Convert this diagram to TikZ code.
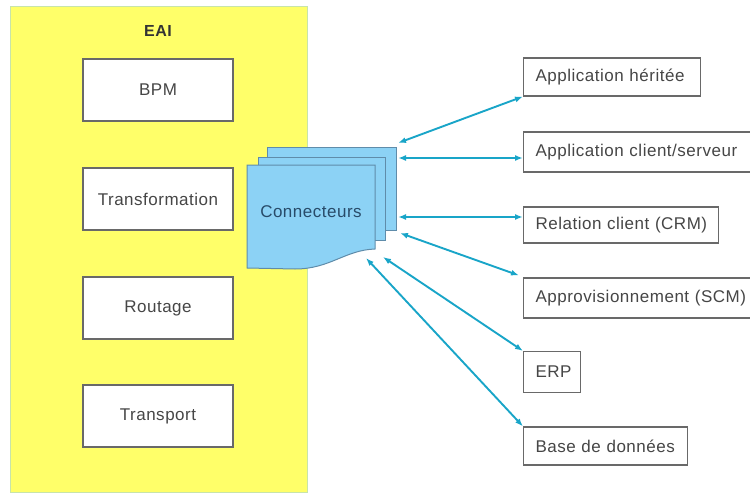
\documentclass[tikz,border=0pt]{standalone}
\usepackage{fontspec}
\setmainfont{Liberation Sans}[LetterSpace=3]
\usetikzlibrary{arrows.meta,calc,positioning}
\definecolor{eaiyellow}{RGB}{255,255,105}
\definecolor{eaiedge}{RGB}{200,228,170}
\definecolor{sheetfill}{RGB}{140,210,245}
\definecolor{sheetedge}{RGB}{95,140,170}
\definecolor{linkblue}{RGB}{25,165,200}
\definecolor{boxedge}{RGB}{105,105,105}
\definecolor{txtgrey}{RGB}{70,70,70}
\tikzset{
  eaibox/.style={draw=eaiedge,fill=eaiyellow,line width=1pt},
  layer/.style={draw=boxedge,fill=white,line width=1.3pt,minimum width=150,minimum height=62,text=txtgrey},
  appbox/.style={draw=boxedge,fill=white,line width=1.1pt,anchor=west,minimum height=38,inner xsep=12,align=left,text=txtgrey},
  sheet/.style={draw=sheetedge,fill=sheetfill,line width=1pt},
  link/.style={{Latex[length=8,width=6]}-{Latex[length=8,width=6]},draw=linkblue,line width=1.9pt},
  every node/.style={font=\fontsize{17}{20}\selectfont}
}
\begin{document}
\begin{tikzpicture}[x=1pt,y=-1pt]
\useasboundingbox (0,0) rectangle (750,495);
\draw[eaibox] (10,7) rectangle (307,492);
\node[font=\fontsize{16}{19}\selectfont\bfseries,text=black!80] (eai) at (158,31) {EAI};
\node[layer] (bpm) at (158,90) {BPM};
\node[layer] (transf) at (158,199) {Transformation};
\node[layer] (rout) at (158,308) {Routage};
\node[layer] (transp) at (158,416) {Transport};
% pile of connector sheets
\draw[sheet] (267,147) rectangle (396,230);
\draw[sheet] (258,157) rectangle (385,240);
\draw[sheet] (247,165) -- (375,165) -- (375,249)
  .. controls (345,250) and (330,269) .. (295,269) -- (247,268) -- cycle;
\node[text={rgb,255:red,40;green,75;blue,105}] (conn) at (311,212) {Connecteurs};
\coordinate (c1) at (398,143);
\coordinate (c2) at (398,158);
\coordinate (c3) at (398,217);
\coordinate (c4) at (400,233);
\coordinate (c5) at (383,257);
\coordinate (c6) at (366,258);
% applications
\node[appbox,text width=153] (herit) at (523,77) {\mbox{Application héritée}};
\node[appbox,text width=205,minimum height=40] (cliser) at (523,152) {\mbox{Application client/serveur}};
\node[appbox,text width=171,minimum height=36] (crm) at (523,225) {\mbox{Relation client (CRM)}};
\node[appbox,text width=205,minimum height=40] (scm) at (523,298) {\mbox{Approvisionnement (SCM)}};
\node[appbox,text width=33,minimum height=41] (erp) at (523,372) {\mbox{ERP}};
\node[appbox,text width=140] (bdd) at (523,446) {\mbox{Base de données}};
\draw[link] (c1) -- (herit.south west);
\draw[link] (c2) -- (c2 -| cliser.west);
\draw[link] (c3) -- (c3 -| crm.west);
\draw[link] (c4) -- ($(scm.north west)+(-4,-2)$);
\draw[link] (c5) -- (erp.north west);
\draw[link] (c6) -- (bdd.north west);
\end{tikzpicture}
\end{document}
